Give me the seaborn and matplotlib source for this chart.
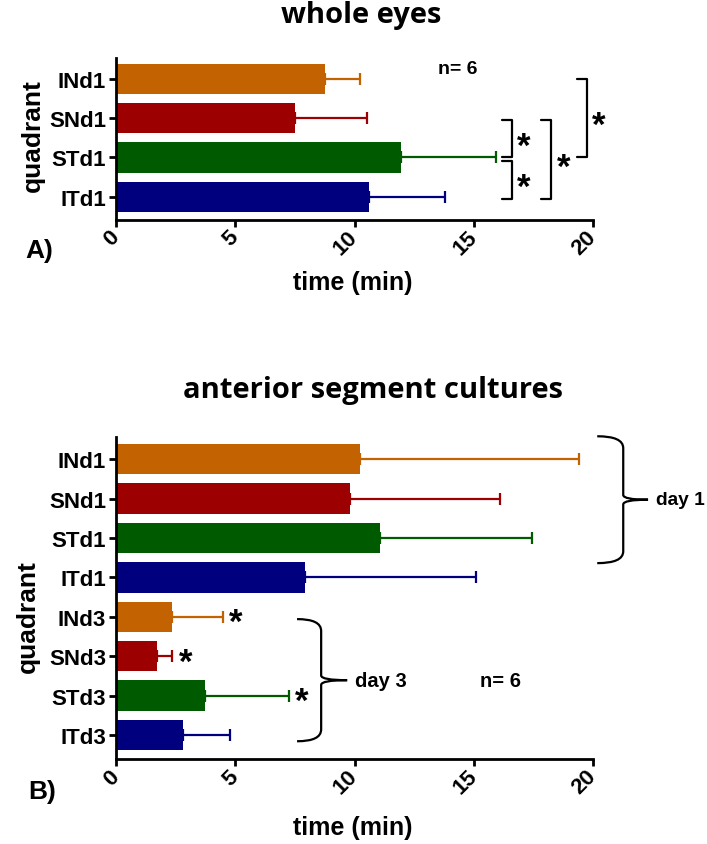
import matplotlib
matplotlib.use('Agg')
import matplotlib.pyplot as plt
import matplotlib.transforms as mtransforms
from matplotlib.path import Path
from matplotlib.patches import PathPatch
import pandas as pd
import seaborn as sns

# A) whole eyes
quad_a = ['INd1', 'SNd1', 'STd1', 'ITd1']
mean_a = [8.76, 7.51, 11.94, 10.62]
sd_a = [1.46, 3.01, 3.98, 3.18]

# B) anterior segment cultures
quad_b = ['INd1', 'SNd1', 'STd1', 'ITd1', 'INd3', 'SNd3', 'STd3', 'ITd3']
mean_b = [10.22, 9.80, 11.05, 7.94, 2.37, 1.73, 3.75, 2.82]
sd_b = [9.19, 6.28, 6.39, 7.15, 2.10, 0.64, 3.49, 1.98]

quad_colors = {'IN': '#C26200', 'SN': '#9C0000', 'ST': '#005A00', 'IT': '#00007F'}

sns.set_style('ticks')
plt.rcParams['font.family'] = ['Liberation Sans', 'DejaVu Sans']
plt.rcParams['font.weight'] = 'bold'
plt.rcParams['axes.labelweight'] = 'bold'
for k in ['text.color', 'axes.labelcolor', 'xtick.color', 'ytick.color', 'axes.edgecolor']:
    plt.rcParams[k] = 'black'

fig = plt.figure(figsize=(7.07, 8.45), dpi=100)
ax_a = fig.add_axes([0.164, 0.7385, 0.675, 0.1917])
ax_b = fig.add_axes([0.164, 0.1006, 0.675, 0.381])


def draw_bars(ax, labels, means, sds, ylim):
    df = pd.DataFrame({'quadrant': labels, 'time': means})
    cols = [quad_colors[q[:2]] for q in labels]
    sns.barplot(data=df, x='time', y='quadrant', hue='quadrant', palette=cols,
                legend=False, orient='h', width=0.77, saturation=1, ax=ax,
                edgecolor='none', linewidth=0)
    for i, (m, s, c) in enumerate(zip(means, sds, cols)):
        ax.errorbar(m, i, xerr=[[0], [s]], fmt='none', ecolor=c,
                    elinewidth=1.6, capsize=4, capthick=1.6)
    ax.set_xlim(0, 20)
    ax.set_ylim(*ylim)
    ax.set_xticks([0, 5, 10, 15, 20])
    sns.despine(ax=ax)
    for sp in ['left', 'bottom']:
        ax.spines[sp].set_linewidth(2.0)
    ax.tick_params(axis='both', width=2.0, length=5, labelsize=16, pad=2)
    ax.tick_params(axis='x', pad=5)
    plt.setp(ax.get_xticklabels(), rotation=45, ha='right', va='center',
             rotation_mode='anchor', fontweight='bold')
    plt.setp(ax.get_yticklabels(), fontweight='bold')
    ax.set_xlabel('time (min)', fontsize=18, fontweight='bold')
    ax.set_ylabel('quadrant', fontsize=19, fontweight='bold')


def star(ax, x, y, fs=25):
    tr = mtransforms.offset_copy(ax.transData, fig=fig, y=-0.44 * fs, units='points')
    ax.text(x, y, '*', fontsize=fs, fontweight='bold', ha='center', va='baseline',
            transform=tr, clip_on=False)


def bracket(ax, i, j, xv, arm=0.42):
    ax.plot([xv - arm, xv, xv, xv - arm], [i, i, j, j], color='black', lw=1.6,
            clip_on=False, solid_joinstyle='round')
    star(ax, xv + 0.5, (i + j) / 2 + 0.05)


def brace(ax, y0, y1, xl, xv, xt, r=0.3, rt=0.12):
    ym = (y0 + y1) / 2
    verts = [(xl, y0), (xv, y0), (xv, y0 + r), (xv, ym - rt), (xv, ym), (xt, ym),
             (xt, ym), (xv, ym), (xv, ym + rt), (xv, y1 - r), (xv, y1), (xl, y1)]
    codes = [Path.MOVETO, Path.CURVE3, Path.CURVE3, Path.LINETO, Path.CURVE3, Path.CURVE3,
             Path.MOVETO, Path.CURVE3, Path.CURVE3, Path.LINETO, Path.CURVE3, Path.CURVE3]
    ax.add_patch(PathPatch(Path(verts, codes), fill=False, lw=1.6, ec='black', clip_on=False))


# panel A
draw_bars(ax_a, quad_a, mean_a, sd_a, (3.59, -0.53))
ax_a.yaxis.set_label_coords(-0.149, 0.53)
ax_a.xaxis.set_label_coords(0.497, -0.38)
ax_a.xaxis.label.set_va('center')
ax_a.text(13.5, -0.25, 'n= 6', fontsize=14, fontweight='bold', va='center', ha='left')
bracket(ax_a, 1.04, 1.98, 16.6)
bracket(ax_a, 2.1, 3.05, 16.6)
bracket(ax_a, 1.04, 3.05, 18.25)
bracket(ax_a, 0.0, 1.98, 19.75)

# panel B
draw_bars(ax_b, quad_b, mean_b, sd_b, (7.61, -0.56))
ax_b.yaxis.set_label_coords(-0.159, 0.444)
ax_b.xaxis.set_label_coords(0.497, -0.211)
ax_b.xaxis.label.set_va('center')
for i in [4, 5, 6]:
    star(ax_b, mean_b[i] + sd_b[i] + 0.55, i)
brace(ax_b, -0.58, 2.64, 20.17, 21.26, 22.3)
ax_b.text(22.62, 1.02, 'day 1', fontsize=13.8, fontweight='bold', va='center', ha='left',
          clip_on=False)
brace(ax_b, 4.06, 7.16, 7.59, 8.6, 9.69)
ax_b.text(10.0, 5.61, 'day 3', fontsize=14.5, fontweight='bold', va='center', ha='left')
ax_b.text(15.26, 5.61, 'n= 6', fontsize=14.5, fontweight='bold', va='center', ha='left')

# titles and panel letters
fig.text(0.511, 0.982, 'whole eyes', fontsize=21, fontweight='bold',
         family=['Open Sans', 'DejaVu Sans'], ha='center', va='center')
fig.text(0.528, 0.538, 'anterior segment cultures', fontsize=21, fontweight='bold',
         family=['Open Sans', 'DejaVu Sans'], ha='center', va='center')
fig.text(39 / 707, 1 - 251 / 845, 'A)', fontsize=19, fontweight='bold', ha='center', va='center')
fig.text(42 / 707, 1 - 792 / 845, 'B)', fontsize=19, fontweight='bold', ha='center', va='center')

fig.savefig('out.png', dpi=100)
